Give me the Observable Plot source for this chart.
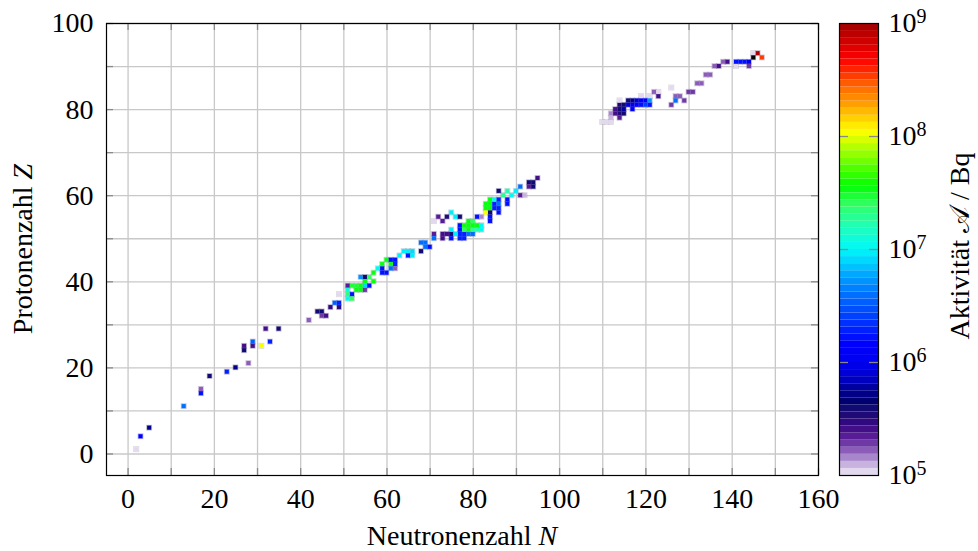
<!DOCTYPE html>
<html><head><meta charset="utf-8">
<script src="https://cdn.jsdelivr.net/npm/d3@7"></script>
<script src="https://cdn.jsdelivr.net/npm/@observablehq/plot@0.6"></script>
<style>
body{margin:0;background:#fff;}
#wrap{position:relative;width:978px;height:551px;font-family:"Liberation Serif","Times New Roman",serif;}
#main{position:absolute;left:0;top:0;}
#bar{position:absolute;left:830px;top:0;}
</style></head><body><div id="wrap"><div id="main"></div><div id="bar"></div></div>
<script>
// Neutron number N, proton number Z, activity A (Bq)
const neutrons = [
  2,3,5,13,17,17,19,23,25,28,27,27,29,29,31,33,32,35,
  42,44,45,45,46,47,48,49,49,49, 51,51,51,51,52,53,54,55,56,52, 52,53,54,55,54,55,56,55,57,57, 58,59,60,59,59,61,62,60,61,62, 61,62,63,64,65,66,65,66,68,68, 69,69,70,
  71,71,73,74,75,73,75,77,78,77, 78,79,80,75,76,77,78,79,80,81, 82,77,78,79,80,81,82,79,80,81, 82,84,84,83,84,86,83,84,85,86, 83,84,85,86,88,84,85,86,88,87, 89,91,92,86,88,90,91,93,94,93, 94,95,75,76,77,72,73,74,71,
  146,145,145,147,141,142,143,144,141,144, 138,139,136,137,134,135,132,133,130,131, 127,128,127,129,126,126,122,123,123,121, 119,116,117,118,119,120,121,114,115,116, 117,118,119,120,121,113,114,115,117,113, 114,115,112,112,114,110,111,112,114
];
const protons = [
  1,4,6,11,15,14,18,19,20,21,25,24,26,25,25,26,29,29,
  31,33,33,32,32,34,35,35,34,37, 39,38,37,36,39,39,39,39,39,37, 36,38,38,38,41,41,41,40,40,42, 43,42,42,43,44,44,44,45,45,45, 43,43,46,47,47,47,46,46,47,49, 49,48,48,
  50,51,51,51,51,50,50,50,50,51, 51,51,51,52,51,52,52,52,52,52, 52,53,53,53,53,53,53,54,54,55, 55,55,54,56,56,56,57,57,57,57, 58,58,58,58,58,59,59,59,59,60, 60,60,60,61,61,61,62,63,63,62, 62,64,56,55,55,55,54,55,54,
  93,93,92,92,91,91,91,91,90,90, 91,91,90,90,88,88,86,86,84,84, 83,83,82,82,81,85,84,84,83,83, 83,82,82,82,82,82,82,81,81,81, 81,81,81,81,81,80,80,80,80,79, 79,79,79,78,78,77,77,77,82
];
const activity = [
  1.0e5,1.4e6,5.2e5,4.0e6,1.66e5,1.6e6,4.2e5,1.8e6,5.2e5,1.66e5,2.6e5,4.2e5,3.2e6,2.6e5,1.1e8,2.0e6,2.6e5,4.2e5,
  1.66e5,4.2e5,4.2e5,1.86e5,2.6e5,3.0e5,3.5e6,1.8e6,3.0e5,1.07e5, 2.1e5,1.26e7,2.2e7,1.0e7,2.8e7,2.8e7,3.2e7,7.9e6,1.6e6,1.6e6, 2.5e7,3.2e7,3.2e7,1.86e5,5.0e6,4.2e5,2.5e7,3.2e7,3.2e7,3.2e7, 1.0e7,1.6e6,1.6e6,1.6e6,3.2e7,3.2e7,2.0e6,3.2e7,1.6e6,1.6e6, 4.0e6,1.66e5,8.9e6,8.9e6,8.9e6,7.9e6,1.6e6,8.9e6,4.2e5,4.0e6, 4.0e6,4.0e6,1.6e6,
  4.0e6,2.1e5,2.6e5,2.6e5,4.2e5,2.6e5,1.6e6,2.0e6,2.0e6,2.0e6, 2.0e6,4.0e6,4.0e6,8.9e6,8.9e6,1.6e6,2.5e7,3.2e7,2.0e7,1.6e7, 1.0e7,1.6e6,3.2e7,3.2e7,3.2e7,3.2e7,1.0e7,3.2e7,2.5e7,1.6e6, 1.5e5,1.6e6,1.6e6,1.1e8,4.2e5,1.6e6,3.2e7,3.2e7,2.0e6,2.0e6, 3.2e7,3.2e7,2.0e6,4.0e6,1.6e6,3.2e7,1.0e7,2.0e6,1.6e6,2.0e7, 1.0e7,2.1e5,1.2e5,4.2e5,1.6e7,8.9e6,4.0e6,4.2e5,4.2e5,2.1e5, 4.2e5,2.6e5,8.9e6,8.9e6,4.2e5,2.1e5,2.1e5,3.2e5,1.07e5,
  9.3e8,1.0e5,2.0e9,3.2e8,1.6e6,1.6e6,1.6e6,1.0e6,1.02e5,1.86e5, 1.66e5,2.6e5,1.66e5,2.6e5,1.66e5,1.66e5,1.66e5,1.66e5,1.86e5,1.86e5, 1.66e5,1.66e5,4.0e6,1.86e5,1.86e5,1.07e5,1.66e5,1.07e5,2.6e5,1.07e5, 1.07e5,4.2e5,5.2e5,8.0e5,1.4e6,1.4e6,5.0e6,3.2e5,4.2e5,8.0e5, 1.0e6,1.4e6,1.6e6,2.5e6,1.6e6,2.4e5,4.2e5,6.3e5,1.4e6,2.4e5, 3.5e5,4.2e5,1.4e5,1.2e5,2.1e5,1.02e5,1.02e5,1.02e5,1.07e5
];
const xTicks = [0,20,40,60,80,100,120,140,160];
const yTicks = [0,20,40,60,80,100];
const xGrid = [0,10,20,30,40,50,60,70,80,90,100,110,120,130,140,150,160];
const yGrid = [0,10,20,30,40,50,60,70,80,90,100];
const barTicks = [1e5,1e6,1e7,1e8,1e9];
const barInnerTicks = [1e6,1e7,1e8];
const xTitle = ["Neutronenzahl ", "N"];
const yTitle = ["Protonenzahl ", "Z"];
const cTitle = "Aktivität 𝒜 / Bq";

if (neutrons.length !== protons.length || neutrons.length !== activity.length) throw new Error("length mismatch " + neutrons.length + " " + protons.length + " " + activity.length);
const cells = neutrons.map((n, i) => ({N: n, Z: protons[i], A: activity[i]}));

// colormap (64 discrete bands)
const stops = [[0,"#f0ecf6"],[0.023,"#c9b3de"],[0.039,"#a886cc"],[0.055,"#8a5cb8"],[0.07,"#6e3aa5"],[0.086,"#581c96"],[0.10,"#45108a"],[0.117,"#300880"],[0.133,"#200a78"],[0.15,"#100a72"],[0.164,"#000070"],[0.18,"#000088"],[0.195,"#0000a0"],[0.21,"#0000c0"],[0.227,"#0000d8"],[0.25,"#0000f0"],[0.29,"#0000ff"],[0.32,"#0020ff"],[0.36,"#0048ff"],[0.40,"#0070ff"],[0.44,"#00a0ff"],[0.47,"#00d0ff"],[0.50,"#00f8f8"],[0.55,"#20ffb8"],[0.60,"#30ff60"],[0.64,"#00ff00"],[0.68,"#50ff00"],[0.72,"#a8ff00"],[0.76,"#ffff00"],[0.79,"#ffd000"],[0.82,"#ffa000"],[0.86,"#ff6800"],[0.89,"#ff3000"],[0.92,"#ff0000"],[0.96,"#d00000"],[1,"#a00000"]];
const ramp = d3.scaleLinear().domain(stops.map(s => s[0])).range(stops.map(s => s[1])).interpolate(d3.interpolateRgb).clamp(true);
const cmap = t => t > 1.001 ? "#000000" : ramp((Math.max(0, Math.min(63, Math.floor(t * 64))) + 0.5) / 64);
const colorScale = {type: "log", domain: [1e5, 1e9], interpolate: cmap};

const FONT = "Liberation Serif";
const W = 850, H = 551, mL = 106, mR = 32, mT = 23, mB = 76;
const fw = W - mL - mR, fh = H - mT - mB;

const main = Plot.plot({
  width: W, height: H, marginLeft: mL, marginRight: mR, marginTop: mT, marginBottom: mB,
  style: {fontFamily: FONT, fontSize: "28px", background: "#fff", color: "#000"},
  x: {domain: [-5, 160]},
  y: {domain: [-5, 100]},
  color: colorScale,
  marks: [
    Plot.gridX(xGrid, {stroke: "#c8c8c8", strokeOpacity: 1, strokeWidth: 1.3}),
    Plot.gridY(yGrid, {stroke: "#c8c8c8", strokeOpacity: 1, strokeWidth: 1.3}),
    Plot.ruleX(xGrid, {insetTop: fh - 7, stroke: "#8a8a8a", strokeWidth: 1.3}),
    Plot.ruleX(xGrid, {insetBottom: fh - 7, stroke: "#8a8a8a", strokeWidth: 1.3}),
    Plot.ruleY(yGrid, {insetRight: fw - 7, stroke: "#8a8a8a", strokeWidth: 1.3}),
    Plot.ruleY(yGrid, {insetLeft: fw - 7, stroke: "#8a8a8a", strokeWidth: 1.3}),
    Plot.rect(cells, {
      x1: d => d.N - 0.6, x2: d => d.N + 0.6,
      y1: d => d.Z - 0.6, y2: d => d.Z + 0.6,
      fill: "A", fillOpacity: 0.35, stroke: "#9890a8", strokeOpacity: 0.3, strokeWidth: 0.8
    }),
    Plot.rect(cells, {
      x1: d => d.N - 0.47, x2: d => d.N + 0.47,
      y1: d => d.Z - 0.47, y2: d => d.Z + 0.47,
      fill: "A"
    }),
    Plot.axisX(xTicks, {tickSize: 0, tickPadding: 13, label: null, fontSize: 28}),
    Plot.axisY(yTicks, {tickSize: 0, tickPadding: 13, label: null, fontSize: 28}),
    Plot.frame({stroke: "#000", strokeWidth: 1.2})
  ]
});
document.getElementById("main").appendChild(main);

const ms = d3.select(main);
const xt = ms.append("text").attr("x", mL + fw / 2).attr("y", 545).attr("text-anchor", "middle")
  .attr("font-family", FONT).attr("font-size", 28).attr("fill", "#000");
xt.append("tspan").text(xTitle[0]);
xt.append("tspan").attr("font-style", "italic").text(xTitle[1]);
const yt = ms.append("text").attr("transform", `translate(32,${mT + fh / 2}) rotate(-90)`).attr("text-anchor", "middle")
  .attr("font-family", FONT).attr("font-size", 28).attr("fill", "#000");
yt.append("tspan").text(yTitle[0]);
yt.append("tspan").attr("font-style", "italic").text(yTitle[1]);

// colorbar
const bands = d3.range(64).map(i => ({lo: 10 ** (5 + i / 16), hi: 10 ** (5 + (i + 1) / 16)}));
const BW = 148, bL = 9, bR = 100;
const bfw = BW - bL - bR;
const bar = Plot.plot({
  width: BW, height: H, marginLeft: bL, marginRight: bR, marginTop: mT, marginBottom: mB,
  style: {fontFamily: FONT, fontSize: "28px", background: "transparent", color: "#000"},
  x: {domain: [0, 1], axis: null},
  y: {type: "log", domain: [1e5, 1e9]},
  color: colorScale,
  marks: [
    Plot.rect(bands, {x1: 0, x2: 1, y1: "lo", y2: "hi", fill: d => Math.sqrt(d.lo * d.hi)}),
    Plot.ruleY(barInnerTicks, {insetRight: bfw - 9, stroke: "#888", strokeWidth: 1.3}),
    Plot.ruleY(barInnerTicks, {insetLeft: bfw - 9, stroke: "#888", strokeWidth: 1.3}),
    Plot.axisY(barTicks, {anchor: "right", tickSize: 0, tickPadding: 10, label: null, fontSize: 28,
      tickFormat: d => "10^" + Math.round(Math.log10(d))}),
    Plot.frame({stroke: "#000", strokeWidth: 1.2})
  ]
});
document.getElementById("bar").appendChild(bar);
d3.select(bar).selectAll("g[aria-label='y-axis tick label'] text").each(function () {
  const s = d3.select(this);
  const [base, exp] = s.text().split("^");
  s.text(null);
  s.append("tspan").text(base);
  s.append("tspan").attr("dy", "-0.45em").attr("font-size", "20px").text(exp);
});
d3.select(bar).append("text")
  .attr("transform", `translate(139,${mT + fh / 2 - 3}) rotate(-90)`)
  .attr("text-anchor", "middle").attr("font-family", FONT).attr("font-size", 28).attr("fill", "#000")
  .text(cTitle);
</script></body></html>
